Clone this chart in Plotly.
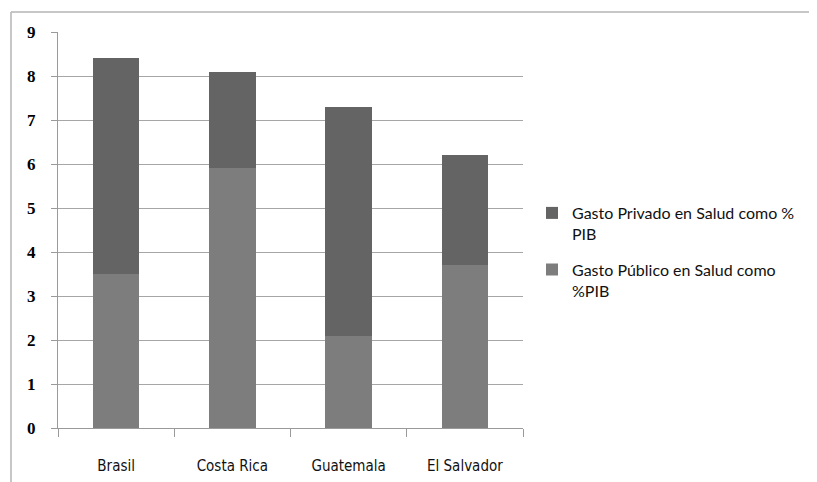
import plotly.graph_objects as go

categories = ["Brasil", "Costa Rica", "Guatemala", "El Salvador"]
publico = [3.5, 5.9, 2.1, 3.7]
privado = [4.9, 2.2, 5.2, 2.5]
name_publico = "Gasto Público en Salud como<br>%PIB"
name_privado = "Gasto Privado en Salud como %<br>PIB"
y_ticks = [0, 1, 2, 3, 4, 5, 6, 7, 8, 9]

# page is offset by the default 8px body margin
OFF = 8
W, H = 817, 482
L, T = 58 - OFF, 32 - OFF
pw, ph = 465, 396
R, B = W - L - pw, H - T - ph

def px_x(p):
    return (p - OFF - L) / pw

def px_y(p):
    return (T + ph + OFF - p) / ph

fig = go.Figure()
fig.add_trace(go.Bar(x=categories, y=publico, name=name_publico, legendgroup="pub",
                     legendrank=2,
                     marker=dict(color="#7d7d7d", line=dict(width=0)), width=0.4))
fig.add_trace(go.Bar(x=categories, y=privado, name=name_privado, legendgroup="priv",
                     legendrank=1,
                     marker=dict(color="#646464", line=dict(width=0)), width=0.4))

fig.update_layout(
    width=W, height=H,
    margin=dict(l=L, r=R, t=T, b=B),
    barmode="stack",
    paper_bgcolor="white", plot_bgcolor="white",
    showlegend=True,
    legend=dict(x=px_x(532), y=px_y(252), xanchor="left", yanchor="middle",
                traceorder="grouped", itemwidth=30, valign="top",
                font=dict(family="Lato", size=16, color="#111111"),
                itemsizing="constant", tracegroupgap=12),
    xaxis=dict(showgrid=False, showline=True, linecolor="#9a9a9a", linewidth=1,
               ticks="outside", tickson="boundaries", ticklen=8, tickcolor="#9a9a9a",
               ticklabelstandoff=24,
               tickfont=dict(family="DejaVu Sans Condensed, Noto Sans", size=15,
                             color="#111111")),
    yaxis=dict(range=[0, 9], tickvals=y_ticks, showgrid=True, gridcolor="#a6a6a6",
               gridwidth=1, showline=True, linecolor="#9a9a9a", linewidth=1,
               ticks="outside", ticklen=6, tickcolor="#9a9a9a", zeroline=False,
               ticklabelstandoff=12,
               tickfont=dict(family="Liberation Serif", size=17, color="#000000",
                             weight="bold")),
    shapes=[
        dict(type="line", xref="paper", yref="paper",
             x0=px_x(11), x1=px_x(817), y0=px_y(12), y1=px_y(12),
             line=dict(color="#b4b4b4", width=1.5)),
        dict(type="line", xref="paper", yref="paper",
             x0=px_x(11), x1=px_x(11), y0=px_y(12), y1=px_y(482),
             line=dict(color="#b4b4b4", width=1.5)),
    ],
)

fig.write_html("out.html")
